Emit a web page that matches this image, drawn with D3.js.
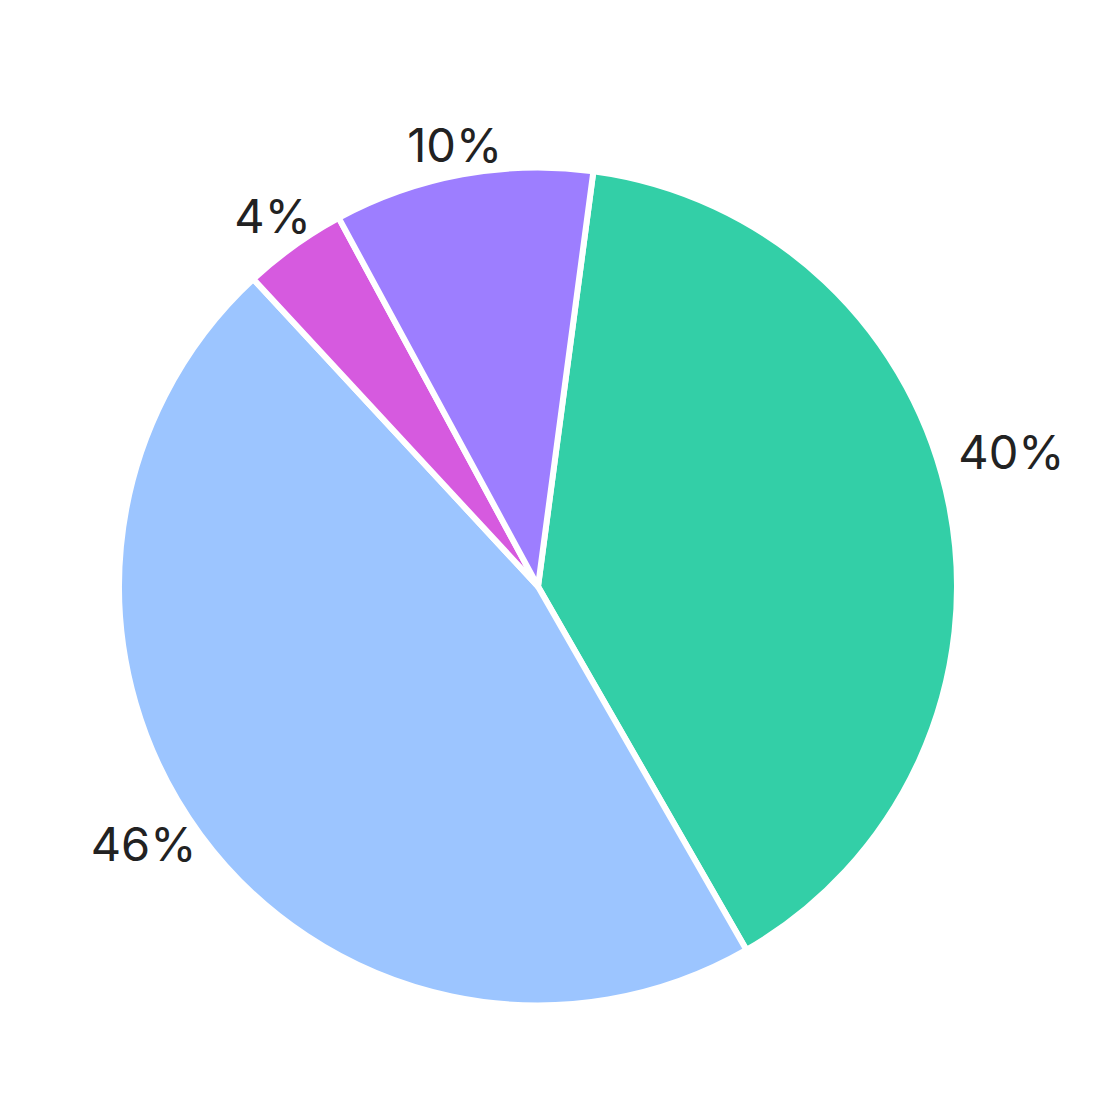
<!DOCTYPE html>
<html>
<head>
<meta charset="utf-8">
<script src="https://cdn.jsdelivr.net/npm/d3@7"></script>
<style>
  html, body { margin: 0; padding: 0; background: #ffffff; }
  svg { display: block; }
</style>
</head>
<body>
<svg id="chart" width="1116" height="1117"></svg>
<script>
// ---- data ----
const categories = ["A", "B", "C", "D"];
const values = [39.6, 46.4, 4.0, 10.0];
const labels = ["40%", "46%", "4%", "10%"];
const colors = ["#33CFA7", "#9CC5FF", "#D65ADF", "#9D7EFF"];

// ---- layout ----
const W = 1116, H = 1117;
const cx = 538, cy = 586.5;
const outerR = 419;
const labelR = [492, 471, 456, 449];
const labelNudgeDeg = [-4.7, 3.2, 0, -0.3];
const startDeg = 7.6;

const svg = d3.select("#chart");
const g = svg.append("g").attr("transform", `translate(${cx},${cy})`);

const pie = d3.pie().sort(null).value(d => d.value)
  .startAngle(startDeg * Math.PI / 180)
  .endAngle((startDeg + 360) * Math.PI / 180);

const data = categories.map((c, i) => ({ cat: c, value: values[i], label: labels[i], color: colors[i], i }));
const arcs = pie(data);
const arc = d3.arc().innerRadius(0).outerRadius(outerR);

g.selectAll("path.slice").data(arcs).join("path")
  .attr("class", "slice")
  .attr("d", arc)
  .attr("fill", d => d.data.color)
  .attr("stroke", "#ffffff")
  .attr("stroke-width", 6)
  .attr("stroke-linejoin", "round");

g.selectAll("text.lbl").data(arcs).join("text")
  .attr("class", "lbl")
  .attr("transform", d => {
    const a = (d.startAngle + d.endAngle) / 2 + labelNudgeDeg[d.data.i] * Math.PI / 180;
    const r = labelR[d.data.i];
    return `translate(${r * Math.sin(a)},${-r * Math.cos(a)})`;
  })
  .attr("text-anchor", "middle")
  .attr("dy", "0.36em")
  .attr("font-family", "Inter, 'Helvetica Neue', Arial, sans-serif")
  .attr("font-size", 47)
  .attr("fill", "#222222")
  .text(d => d.data.label);
</script>
</body>
</html>
